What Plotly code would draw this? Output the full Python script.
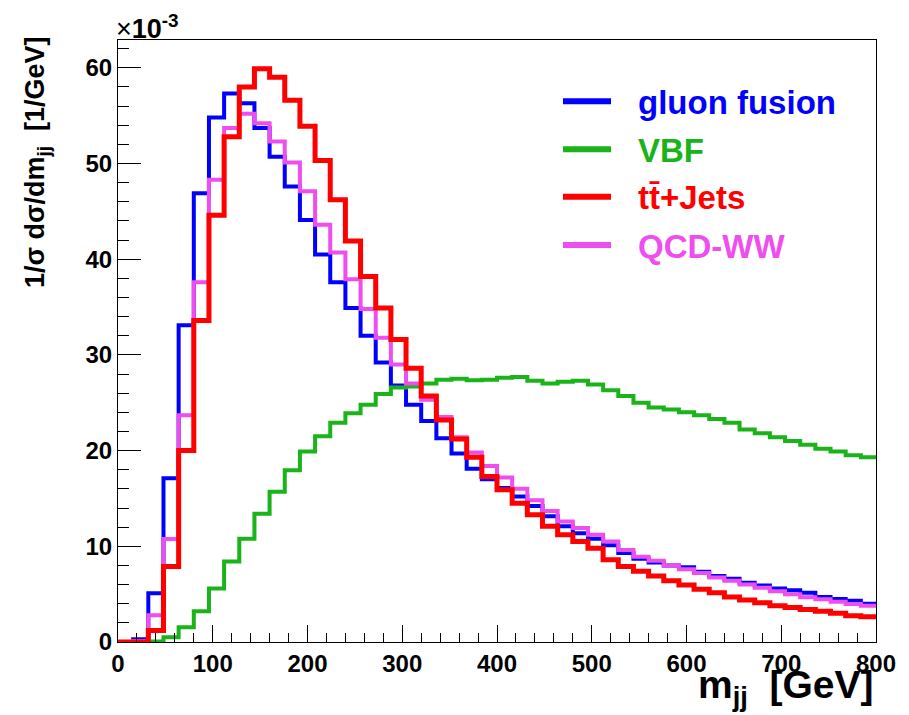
import plotly.graph_objects as go

# ---- data (x10^-3 per GeV), 16 GeV bins from 0 to 800 GeV ----
mjj_edges = list(range(0, 801, 16))

gluon_fusion = [0, 0.3, 5.1, 17.1, 33.1, 46.9, 54.8, 57.3, 56.3, 53.7,
                50.7, 47.6, 44.1, 40.5, 37.6, 34.9, 32.0, 29.2, 26.8, 24.8,
                23.1, 21.3, 19.7, 18.1, 17.0, 16.1, 15.2, 14.2, 13.15, 12.1,
                11.35, 10.8, 10.1, 9.3, 8.7, 8.3, 8.0, 7.8, 7.35, 6.9,
                6.6, 6.2, 5.9, 5.6, 5.4, 5.15, 4.7, 4.5, 4.3, 4.0]

vbf = [0, 0, 0.05, 0.5, 1.55, 3.2, 5.6, 8.4, 10.8, 13.4,
       15.7, 17.95, 19.9, 21.5, 22.9, 23.9, 24.8, 25.9, 26.6, 26.7,
       27.0, 27.4, 27.5, 27.35, 27.4, 27.6, 27.7, 27.3, 27.0, 27.2,
       27.3, 26.9, 26.3, 25.7, 25.0, 24.5, 24.3, 24.0, 23.7, 23.3,
       22.9, 22.2, 21.8, 21.4, 21.0, 20.6, 20.2, 19.9, 19.5, 19.3]

ttbar_jets = [0, 0, 1.2, 7.9, 20.0, 33.6, 44.6, 52.8, 58.0, 59.9,
              59.0, 56.6, 53.9, 50.3, 46.2, 41.9, 38.2, 34.9, 31.6, 28.6,
              25.7, 23.2, 21.2, 19.3, 17.3, 15.9, 14.5, 13.3, 12.1, 11.2,
              10.5, 9.8, 8.6, 7.9, 7.4, 6.9, 6.4, 5.95, 5.5, 5.15,
              4.7, 4.4, 4.1, 3.8, 3.6, 3.4, 3.2, 3.0, 2.75, 2.65]

qcd_ww = [0, 0.1, 2.8, 10.75, 23.7, 37.6, 48.3, 53.7, 55.2, 54.2,
          52.3, 50.1, 47.1, 43.6, 40.7, 37.9, 34.8, 31.8, 29.0, 27.0,
          25.3, 23.5, 21.4, 19.8, 18.4, 17.2, 16.0, 14.8, 13.7, 12.6,
          11.9, 11.2, 10.5, 9.6, 8.9, 8.5, 8.0, 7.6, 7.2, 6.75,
          6.4, 6.0, 5.67, 5.3, 4.98, 4.67, 4.46, 4.2, 3.97, 3.8]

legend_names = ["gluon fusion", "VBF", "tt\u0304+Jets", "QCD-WW"]

# ---- style ----
OFF = 8  # page body margin
W, H = 901, 707
ML, MR, MT, MB = 110, 33, 32, 73
FONT = "Liberation Sans, Arial, sans-serif"
colors = {"gluon fusion": "#0000FF", "VBF": "#1AB31A",
          "tt\u0304+Jets": "#FF0000", "QCD-WW": "#EE4EEE"}
widths = {"gluon fusion": 4, "VBF": 4, "tt\u0304+Jets": 5, "QCD-WW": 4}
values = {"gluon fusion": gluon_fusion, "VBF": vbf,
          "tt\u0304+Jets": ttbar_jets, "QCD-WW": qcd_ww}


def px_x(px):
    return (px - OFF - ML) / (W - ML - MR)


def px_y(py):
    return 1 - (py - OFF - MT) / (H - MT - MB)


fig = go.Figure()
for name in ["gluon fusion", "VBF", "QCD-WW", "tt\u0304+Jets"]:
    v = values[name]
    fig.add_trace(go.Scatter(
        x=mjj_edges, y=v + [v[-1]], mode="lines", line_shape="hv",
        line=dict(color=colors[name], width=widths[name]),
        name=name, showlegend=False))

shapes = []
annotations = []
leg_y = [101.3, 149.3, 196.7, 245.0]
for name, ly in zip(legend_names, leg_y):
    shapes.append(dict(type="line", xref="paper", yref="paper",
                       x0=px_x(563), x1=px_x(611), y0=px_y(ly), y1=px_y(ly),
                       line=dict(color=colors[name], width=6)))
    annotations.append(dict(text=name, xref="paper", yref="paper",
                            x=px_x(636), y=px_y(ly + 1), xanchor="left",
                            yanchor="middle", showarrow=False,
                            font=dict(family=FONT, size=33, weight="bold",
                                      color=colors[name])))

annotations.append(dict(text="1/\u03c3 d\u03c3/dm<sub>jj</sub>  [1/GeV]",
                        xref="paper", yref="paper", x=px_x(37), y=1.01,
                        xanchor="center", yanchor="top", textangle=-90,
                        showarrow=False,
                        font=dict(family=FONT, size=27, weight="bold",
                                  color="black")))
annotations.append(dict(text="m<sub>jj</sub>  [GeV]", xref="paper",
                        yref="paper", x=1.0, y=px_y(661), xanchor="right",
                        yanchor="top", showarrow=False,
                        font=dict(family=FONT, size=39, weight="bold",
                                  color="black")))
annotations.append(dict(text="\u00d7<b>10</b><sup><b>-3</b></sup>",
                        xref="paper", yref="paper", x=px_x(114),
                        y=px_y(46), xanchor="left", yanchor="bottom",
                        showarrow=False,
                        font=dict(family=FONT, size=27, color="black")))

fig.update_layout(
    width=W, height=H,
    margin=dict(l=ML, r=MR, t=MT, b=MB),
    paper_bgcolor="white", plot_bgcolor="white",
    shapes=shapes, annotations=annotations,
    showlegend=False,
    xaxis=dict(range=[0, 800], dtick=100, tick0=0, ticks="inside",
               ticklen=17, tickcolor="black", tickwidth=1,
               minor=dict(dtick=20, ticks="inside", ticklen=9,
                          tickcolor="black"),
               showgrid=False, zeroline=False, showline=True,
               linecolor="black", linewidth=1, mirror=True,
               tickfont=dict(family=FONT, size=24, weight="bold",
                             color="black")),
    yaxis=dict(range=[0, 62.9], dtick=10, tick0=0, ticks="inside",
               ticklen=23, tickcolor="black", tickwidth=1,
               minor=dict(dtick=2, ticks="inside", ticklen=11,
                          tickcolor="black"),
               showgrid=False, zeroline=False, showline=True,
               linecolor="black", linewidth=1, mirror=True,
               tickfont=dict(family=FONT, size=24, weight="bold",
                             color="black")),
)

fig.write_html("out.html")
